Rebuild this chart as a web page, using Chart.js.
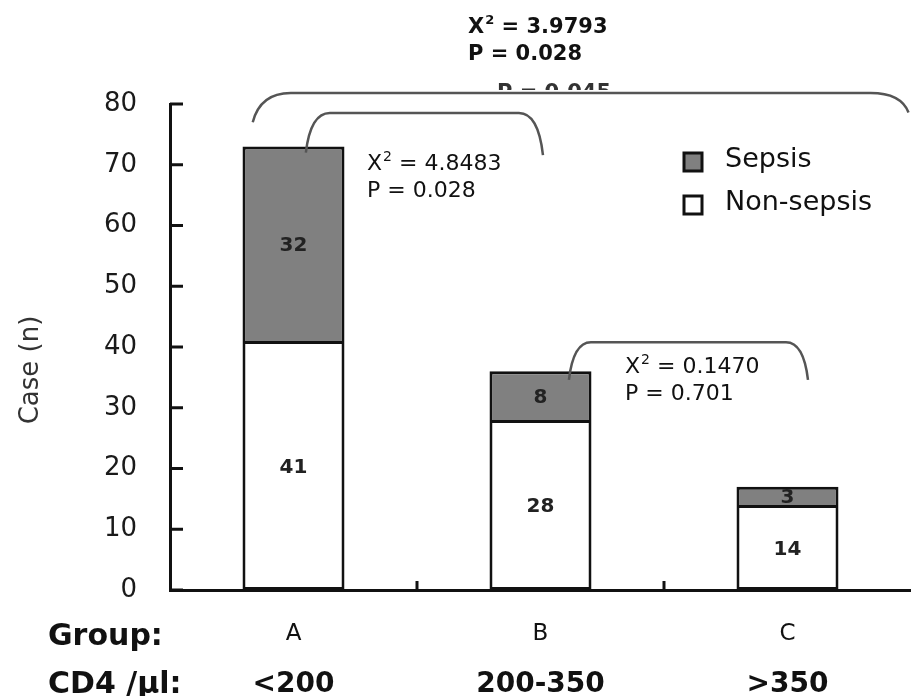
<!DOCTYPE html>
<html>
<head>
<meta charset="utf-8">
<style>
  html, body { margin: 0; padding: 0; background: #fff; }
  #wrap { width: 911px; height: 696px; }
</style>
<script src="https://cdn.jsdelivr.net/npm/chart.js@4/dist/chart.umd.min.js"></script>
</head>
<body>
<div id="wrap"><canvas id="myChart"></canvas></div>
<script>
// data
const groups = ['A', 'B', 'C'];
const cd4Ranges = ['<200', '200-350', '>350'];
const nonSepsis = [41, 28, 14];
const sepsis = [32, 8, 3];
const yMin = 0, yMax = 80, yStep = 10;

// chi-square results shown on the chart
const overallChi = '3.9793', overallP = '0.028';
const abChi = '4.8483', abP = '0.028';
const bcChi = '0.1470', bcP = '0.701';

// brackets: category + offset (in category widths), values in y units
const brackets = [
  { c1: 0, o1: -0.165, y1: 77.0, c2: 2, o2: 0.49, y2: 78.6, top: 81.8, r: 38 },
  { c1: 0, o1: 0.05, y1: 72.0, c2: 1, o2: 0.01, y2: 71.6, top: 78.5, r: 24 },
  { c1: 1, o1: 0.115, y1: 34.6, c2: 2, o2: 0.083, y2: 34.6, top: 40.8, r: 22 }
];

function chiText(ctx, x, y, value, size, weight) {
  const fam = '"DejaVu Sans", sans-serif';
  ctx.font = weight + ' ' + size + 'px ' + fam;
  ctx.fillText('X', x, y);
  let w = ctx.measureText('X').width;
  ctx.font = weight + ' ' + Math.round(size * 0.62) + 'px ' + fam;
  ctx.fillText('2', x + w + 1, y - size * 0.42);
  w += ctx.measureText('2').width + 1;
  ctx.font = weight + ' ' + size + 'px ' + fam;
  ctx.fillText(' = ' + value, x + w, y);
}

const extras = {
  id: 'extras',
  afterDatasetsDraw(chart) {
    const ctx = chart.ctx;
    const xs = chart.scales.x, ys = chart.scales.y;
    const area = chart.chartArea;
    const catW = xs.getPixelForValue(1) - xs.getPixelForValue(0);
    ctx.save();

    // inward y ticks
    ctx.strokeStyle = '#111';
    ctx.lineWidth = 3;
    ys.ticks.forEach(t => {
      const py = ys.getPixelForValue(t.value);
      ctx.beginPath();
      ctx.moveTo(area.left, py);
      ctx.lineTo(area.left + 13, py);
      ctx.stroke();
    });
    // small ticks between groups
    for (let i = 0; i < groups.length - 1; i++) {
      const px = (xs.getPixelForValue(i) + xs.getPixelForValue(i + 1)) / 2;
      ctx.beginPath();
      ctx.moveTo(px, area.bottom);
      ctx.lineTo(px, area.bottom - 9);
      ctx.stroke();
    }

    // value labels inside bars
    ctx.fillStyle = '#222';
    ctx.font = 'bold 20px "DejaVu Sans", sans-serif';
    ctx.textAlign = 'center';
    ctx.textBaseline = 'middle';
    chart.data.datasets.forEach((ds, di) => {
      chart.getDatasetMeta(di).data.forEach((bar, i) => {
        ctx.fillText(String(ds.data[i]), bar.x, (bar.y + bar.base) / 2 + 2);
      });
    });

    // brackets
    ctx.strokeStyle = '#555';
    ctx.lineWidth = 2.5;
    brackets.forEach(b => {
      const x1 = xs.getPixelForValue(b.c1) + b.o1 * catW;
      const x2 = xs.getPixelForValue(b.c2) + b.o2 * catW;
      const y1 = ys.getPixelForValue(b.y1);
      const y2 = ys.getPixelForValue(b.y2);
      const yt = ys.getPixelForValue(b.top);
      ctx.beginPath();
      ctx.moveTo(x1, y1);
      ctx.quadraticCurveTo(x1 + b.r * 0.2, yt, x1 + b.r, yt);
      ctx.lineTo(x2 - b.r, yt);
      ctx.quadraticCurveTo(x2 - b.r * 0.2, yt, x2, y2);
      ctx.stroke();
    });

    // ghost text hidden behind the big bracket
    ctx.save();
    ctx.beginPath();
    ctx.rect(480, 81, 160, 9);
    ctx.clip();
    ctx.fillStyle = '#333';
    ctx.textAlign = 'left';
    ctx.textBaseline = 'alphabetic';
    ctx.font = 'bold 21px "DejaVu Sans", sans-serif';
    ctx.fillText('P = 0.045', 497, 99);
    ctx.restore();

    // chi-square texts
    ctx.fillStyle = '#111';
    ctx.textAlign = 'left';
    ctx.textBaseline = 'alphabetic';
    chiText(ctx, 468, 33, overallChi, 21, 'bold');
    ctx.font = 'bold 21px "DejaVu Sans", sans-serif';
    ctx.fillText('P = ' + overallP, 468, 60);

    chiText(ctx, 367, 170, abChi, 22, 'normal');
    ctx.font = '22px "DejaVu Sans", sans-serif';
    ctx.fillText('P = ' + abP, 367, 197);

    chiText(ctx, 625, 373, bcChi, 22, 'normal');
    ctx.font = '22px "DejaVu Sans", sans-serif';
    ctx.fillText('P = ' + bcP, 625, 400);

    // legend
    const legend = [
      { label: 'Sepsis', color: '#808080', y: 152 },
      { label: 'Non-sepsis', color: '#ffffff', y: 195 }
    ];
    legend.forEach(l => {
      ctx.fillStyle = l.color;
      ctx.fillRect(684, l.y + 1, 18, 18);
      ctx.strokeStyle = '#111';
      ctx.lineWidth = 3;
      ctx.strokeRect(684, l.y + 1, 18, 18);
      ctx.fillStyle = '#111';
      ctx.font = '27px "DejaVu Sans", sans-serif';
      ctx.fillText(l.label, 725, l.y + 15);
    });

    // y axis title
    ctx.save();
    ctx.translate(38, 370);
    ctx.rotate(-Math.PI / 2);
    ctx.textAlign = 'center';
    ctx.fillStyle = '#333';
    ctx.font = '26px "DejaVu Sans", sans-serif';
    ctx.fillText('Case (n)', 0, 0);
    ctx.restore();

    // row headings and CD4 ranges
    ctx.fillStyle = '#111';
    ctx.textAlign = 'left';
    ctx.font = 'bold 30px "DejaVu Sans", sans-serif';
    ctx.fillText('Group:', 48, 645);
    ctx.fillText('CD4 /\u03bcl:', 48, 693);
    ctx.textAlign = 'center';
    ctx.font = 'bold 28px "DejaVu Sans", sans-serif';
    cd4Ranges.forEach((r, i) => {
      ctx.fillText(r, xs.getPixelForValue(i), 692);
    });

    ctx.restore();
  }
};

const data = {
  labels: groups,
  datasets: [
    {
      label: 'Non-sepsis',
      data: nonSepsis,
      backgroundColor: '#ffffff',
      borderColor: '#111',
      borderWidth: 3,
      borderSkipped: false
    },
    {
      label: 'Sepsis',
      data: sepsis,
      backgroundColor: '#808080',
      borderColor: '#111',
      borderWidth: { top: 3, left: 3, right: 3, bottom: 0 },
      borderSkipped: false
    }
  ]
};

const config = {
  type: 'bar',
  data,
  options: {
    responsive: true,
    maintainAspectRatio: false,
    animation: false,
    devicePixelRatio: 1,
    layout: { padding: { top: 104, left: 0, right: 0, bottom: 0 } },
    datasets: { bar: { categoryPercentage: 1, barPercentage: 0.413 } },
    plugins: {
      legend: { display: false },
      tooltip: { enabled: false }
    },
    scales: {
      x: {
        stacked: true,
        grid: { display: false, drawTicks: false },
        border: { display: true, color: '#111', width: 3 },
        ticks: {
          color: '#111',
          padding: 30,
          font: { family: '"DejaVu Sans", sans-serif', size: 23 }
        },
        afterFit(s) { s.height = 106; }
      },
      y: {
        stacked: true,
        min: yMin,
        max: yMax,
        grid: { display: false, drawTicks: false },
        border: { display: true, color: '#111', width: 3 },
        ticks: {
          stepSize: yStep,
          color: '#1a1a1a',
          padding: 33,
          font: { family: '"DejaVu Sans", sans-serif', size: 26 }
        },
        afterFit(s) { s.width = 170; }
      }
    }
  },
  plugins: [extras]
};

const myChart = new Chart(document.getElementById('myChart'), config);
</script>
</body>
</html>
